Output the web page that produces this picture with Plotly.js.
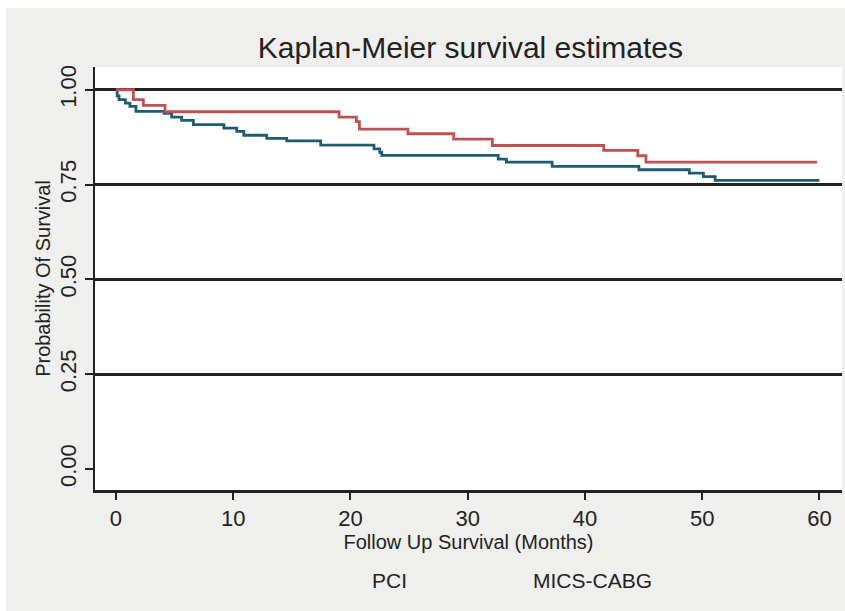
<!DOCTYPE html>
<html>
<head>
<meta charset="utf-8">
<script src="https://cdn.plot.ly/plotly-3.0.1.min.js"></script>
<style>
  html, body { margin: 0; padding: 0; background: #ffffff; width: 845px; height: 611px; overflow: hidden; }
  #chart { position: absolute; left: 6px; top: 8px; width: 839px; height: 603px; }
</style>
</head>
<body>
<div id="chart"></div>
<script>
// Kaplan-Meier step data (time in months, survival probability after each step)
var pciTime = [0, 0.1, 0.26, 0.8, 1.19, 1.7, 4.1, 4.75, 5.6, 6.6, 9.2, 10.3, 10.9, 12.86, 14.56, 17.46, 22.0, 22.5, 22.67, 32.6, 33.3, 37.2, 44.6, 48.9, 50.1, 51.1, 60.0];
var pciSurv = [1, 0.984, 0.974, 0.965, 0.956, 0.943, 0.938, 0.928, 0.919, 0.908, 0.899, 0.890, 0.880, 0.872, 0.865, 0.854, 0.844, 0.835, 0.827, 0.817, 0.809, 0.798, 0.789, 0.780, 0.771, 0.761, 0.761];

var cabgTime = [0, 1.48, 2.33, 4.18, 19.03, 20.5, 20.76, 24.9, 28.8, 32.1, 41.6, 44.5, 45.2, 59.8];
var cabgSurv = [1, 0.974, 0.959, 0.942, 0.928, 0.916, 0.896, 0.884, 0.870, 0.853, 0.840, 0.826, 0.809, 0.809];

var xTicks = [0, 10, 20, 30, 40, 50, 60];
var yTicks = [0, 0.25, 0.5, 0.75, 1];
var yTickText = ['0.00', '0.25', '0.50', '0.75', '1.00'];
var groupNames = ['PCI', 'MICS-CABG'];

var FONT = 'Liberation Sans, Arial, Helvetica, sans-serif';
var TXT = '#222222';

var traces = [
  {
    x: pciTime, y: pciSurv, name: groupNames[0], type: 'scatter', mode: 'lines',
    line: { shape: 'hv', color: '#1f5c6f', width: 2.8 }, hoverinfo: 'x+y+name'
  },
  {
    x: cabgTime, y: cabgSurv, name: groupNames[1], type: 'scatter', mode: 'lines',
    line: { shape: 'hv', color: '#bf5150', width: 2.8 }, hoverinfo: 'x+y+name'
  }
];

var layout = {
  width: 839, height: 603,
  margin: { l: 89, r: 3, t: 59, b: 121, pad: 0 },
  paper_bgcolor: '#eff0ed',
  plot_bgcolor: '#ffffff',
  showlegend: false,
  font: { family: FONT, color: TXT },
  title: {
    text: 'Kaplan-Meier survival estimates',
    font: { family: FONT, size: 30, color: TXT },
    x: 0.5535, xanchor: 'center', y: 0.935, yanchor: 'middle'
  },
  xaxis: {
    range: [-1.79, 61.92], tickvals: xTicks, ticktext: xTicks.map(String),
    showgrid: false, zeroline: false,
    showline: true, linecolor: '#222222', linewidth: 2.5,
    ticks: 'outside', ticklen: 7, tickwidth: 2, tickcolor: '#222222',
    tickfont: { family: FONT, size: 22, color: TXT },
    title: { text: 'Follow Up Survival (Months)', font: { family: FONT, size: 20, color: TXT }, standoff: 4 }
  },
  yaxis: {
    range: [-0.0554, 1.06], tickvals: yTicks, ticktext: yTickText, tickangle: -90,
    showgrid: true, gridcolor: '#222222', gridwidth: 3,
    zeroline: true, zerolinecolor: '#ffffff', zerolinewidth: 3,
    showline: true, linecolor: '#222222', linewidth: 2.5,
    ticks: 'outside', ticklen: 8, tickwidth: 2, tickcolor: '#222222',
    tickfont: { family: FONT, size: 22, color: TXT },
    title: { text: 'Probability Of Survival', font: { family: FONT, size: 20, color: TXT }, standoff: 0 }
  },
  annotations: [
    { text: groupNames[0], xref: 'paper', yref: 'paper', x: 0.394, y: -0.213, xanchor: 'center', yanchor: 'middle',
      showarrow: false, font: { family: FONT, size: 21, color: TXT } },
    { text: groupNames[1], xref: 'paper', yref: 'paper', x: 0.666, y: -0.213, xanchor: 'center', yanchor: 'middle',
      showarrow: false, font: { family: FONT, size: 21, color: TXT } }
  ]
};

Plotly.newPlot('chart', traces, layout, { displayModeBar: false, staticPlot: true });
</script>
</body>
</html>
